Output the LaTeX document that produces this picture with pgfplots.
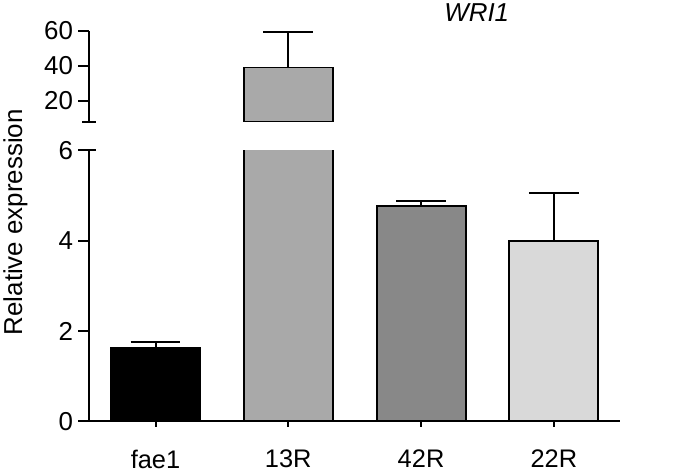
\documentclass[border=0pt]{standalone}
\usepackage{fontspec}
\setmainfont{Liberation Sans}
\usepackage{pgfplots}
\pgfplotsset{compat=1.18}
\definecolor{barA}{HTML}{000000}
\definecolor{barB}{HTML}{A9A9A9}
\definecolor{barC}{HTML}{888888}
\definecolor{barD}{HTML}{D9D9D9}

\pgfplotsset{
  brk/.style={
    scale only axis, width=533pt, xmin=-0.5, xmax=3.5,
    axis y line=left,
    /pgf/number format/assume math mode=true,
    major tick style={line width=2pt, black},
    tick align=outside, major tick length=11pt,
    ybar, bar width=0.67,
    yticklabel style={font=\fontsize{26}{30}\selectfont, inner sep=0pt, xshift=-5pt},
    every axis plot/.append style={draw=black, line width=2pt, bar shift=0pt,
      /pgfplots/error bars/y dir=plus,
      /pgfplots/error bars/y explicit,
      /pgfplots/error bars/error mark=|,
      /pgfplots/error bars/error bar style={line width=2pt, black},
      /pgfplots/error bars/error mark options={line width=2pt, mark size=25pt, black}},
  }
}

\begin{document}
\begin{tikzpicture}
\path (0,0) rectangle (677pt,476pt);

% lower part 0-6
\begin{axis}[brk, name=low, at={(87pt,53pt)}, anchor=south west,
  height=272pt, ymin=0, ymax=6, ytick={0,2,4,6},
  axis x line=bottom,
  axis line style={line width=2pt, -},
  xtick={0,1,2,3}, xticklabels={fae1,13R,42R,22R},
  xticklabel style={font=\fontsize{25.5}{30}\selectfont, inner sep=0pt, yshift=-23pt}]
\addplot[fill=barA] coordinates {(0,1.63) +- (0,0.14)};
\addplot[fill=barB] coordinates {(1,39) +- (0,20.3)};
\addplot[fill=barC] coordinates {(2,4.77) +- (0,0.12)};
\addplot[fill=barD] coordinates {(3,3.99) +- (0,1.07)};
\end{axis}

% upper part 8-60
\begin{axis}[brk, name=up, at={(87pt,354pt)}, anchor=south west,
  height=91pt, ymin=8, ymax=60, ytick={20,40,60},
  axis x line=none, xtick=\empty,
  axis line style={line width=2pt, -}]
\addplot[fill=barB] coordinates {(1,39) +- (0,20.3)};
\end{axis}

% break marks on the y axis
\draw[line width=2pt] (low.north west) ++(-11pt,0) -- ++(18pt,0);
\draw[line width=2pt] (up.south west) ++(-7pt,0) -- ++(14pt,0);

\node[font=\itshape\fontsize{26}{30}\selectfont] at (476pt,463pt) {WRI1};
\node[rotate=90, font=\fontsize{26}{30}\selectfont] at (13pt,253pt) {Relative expression};
\end{tikzpicture}
\end{document}
